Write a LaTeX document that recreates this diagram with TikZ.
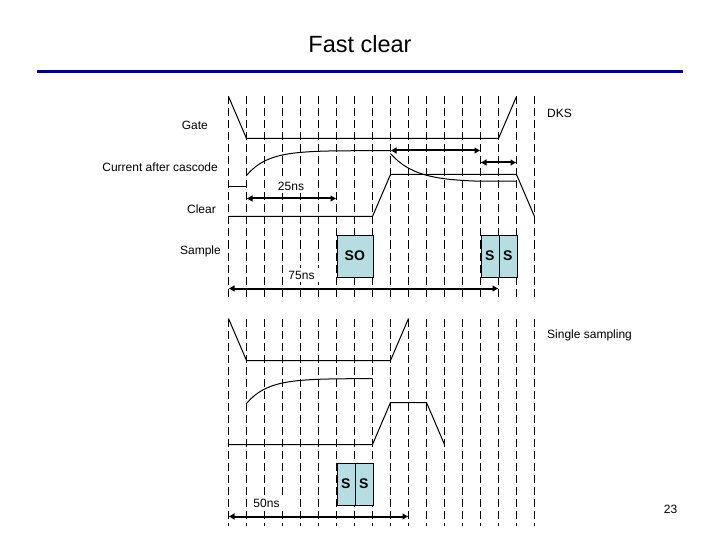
\documentclass[tikz,border=0pt]{standalone}
\usepackage{fontspec}
\setmainfont{Liberation Sans}
\usetikzlibrary{arrows.meta}
\definecolor{boxblue}{HTML}{B7DDE3}
\definecolor{rulenavy}{HTML}{000080}
\newcommand{\boxtext}[1]{\raisebox{-1.2pt}{#1}}
\tikzset{
  gridline/.style={black,line width=1pt,dash pattern=on 8pt off 4pt},
  signal/.style={black,line width=1pt},
  span/.style={black,line width=2pt,{Latex[length=6pt,width=7pt]}-{Latex[length=6pt,width=7pt]}},
  lab/.style={font=\fontsize{12}{14}\selectfont,inner sep=0pt},
  masklab/.style={lab,fill=white,inner xsep=5pt,inner ysep=3pt},
  sbox/.style={draw=black,line width=0.7pt,fill=boxblue,minimum height=42pt,inner sep=0pt,font=\fontsize{14}{16}\selectfont\bfseries}
}
\begin{document}
\begin{tikzpicture}[x=1pt,y=-1pt]
\useasboundingbox (0,0) rectangle (720,540);
\fill[white] (0,0) rectangle (720,540);
\node[inner sep=0pt,font=\fontsize{23.5}{26}\selectfont] (title) at (360,44.5) {Fast clear};
\draw[rulenavy,line width=3pt] (37,72) -- (683,72);
\begin{scope}[shift={(0.5,0.5)}]
% grid
\foreach \i in {0,...,17} {
  \draw[gridline] ({228+18*\i},96) -- ({228+18*\i},300);
  \draw[gridline] ({228+18*\i},318) -- ({228+18*\i},525);
}
% labels
\node[lab,anchor=east] (gate) at (207.5,125) {Gate};
\node[lab,anchor=east] (cur) at (217.5,167) {Current after cascode};
\node[lab,anchor=east] (clear) at (215.5,209) {Clear};
\node[lab,anchor=east] (sample) at (220.5,251) {Sample};
\node[lab,anchor=west] (dks) at (546.5,113) {DKS};
\node[lab,anchor=west] (single) at (546.5,335) {Single sampling};
\node[lab] (page) at (670,509) {23};
\node[masklab] (t25) at (290.5,185.5) {25ns};
\node[masklab] (t75) at (301,274.5) {75ns};
\node[masklab] (t50) at (266,502.5) {50ns};
% upper signals
\draw[signal] (228,96) -- (246,138) -- (498,138) -- (516,96);
\draw[signal] (228,186) -- (246,186);
\draw[signal] plot[domain=246:336,samples=40] (\x,{150+25*exp(-(\x-246)/21)}) -- (390,150);
\draw[signal] plot[domain=390:480,samples=40] (\x,{181.5-28.5*exp(-(\x-390)/25)}) -- (516,180.5);
\draw[signal] (228,216) -- (372,216) -- (390,174) -- (516,174) -- (534,216);
\draw[span] (246,198) -- (336,198);
\draw[span] (390,150) -- (480,150);
\draw[span] (480,162) -- (516,162);
\draw[span] (228,288) -- (498,288);
\node[sbox,minimum width=36pt,anchor=north west] (so) at (336,234) {\boxtext{SO}};
\node[sbox,minimum width=18pt,anchor=north west] (s1) at (480,234) {\boxtext{S}};
\node[sbox,minimum width=18pt,anchor=north west] (s2) at (498,234) {\boxtext{S}};
% lower signals
\draw[signal] (228,318) -- (246,360) -- (390,360) -- (408,318);
\draw[signal] plot[domain=246:336,samples=40] (\x,{378+25*exp(-(\x-246)/21)}) -- (372,378);
\draw[signal] (228,444) -- (372,444) -- (390,402) -- (426,402) -- (444,444);
\draw[span] (228,516) -- (408,516);
\node[sbox,minimum width=18pt,anchor=north west] (s3) at (336,462) {\boxtext{S}};
\node[sbox,minimum width=18pt,anchor=north west] (s4) at (354,462) {\boxtext{S}};
\end{scope}
\end{tikzpicture}
\end{document}
